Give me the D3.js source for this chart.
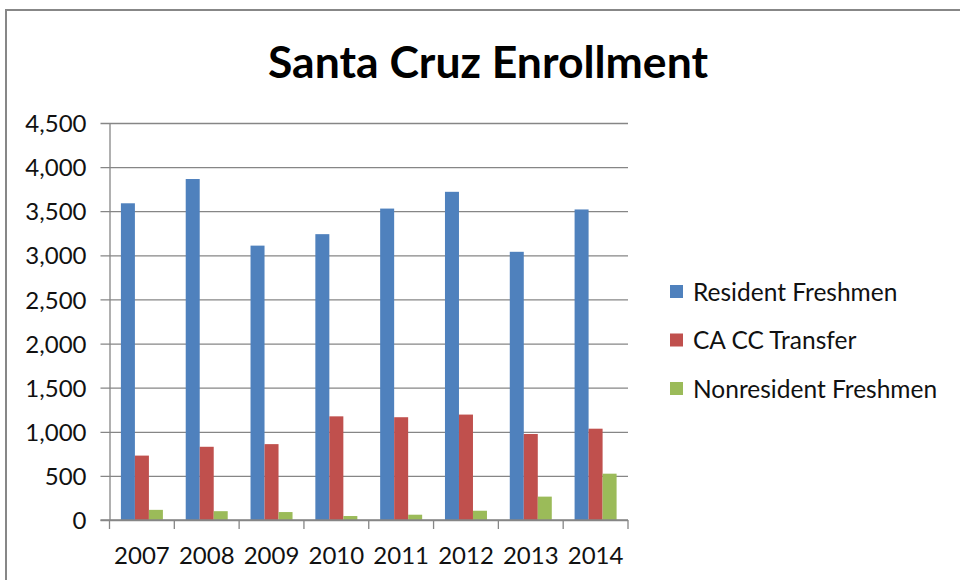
<!DOCTYPE html>
<html>
<head>
<meta charset="utf-8">
<script src="https://cdn.jsdelivr.net/npm/d3@7"></script>
<style>
  html, body { margin: 0; padding: 0; background: #fff; }
  svg { display: block; }
  text { font-family: Lato, "Open Sans", "Noto Sans", sans-serif; }
</style>
</head>
<body>
<svg id="chart" width="960" height="580"></svg>
<script>
// Santa Cruz enrollment by admit category
const years = ["2007", "2008", "2009", "2010", "2011", "2012", "2013", "2014"];
const seriesNames = ["Resident Freshmen", "CA CC Transfer", "Nonresident Freshmen"];
const residentFreshmen = [3590, 3865, 3110, 3240, 3530, 3720, 3040, 3520];
const caCCTransfer = [730, 830, 860, 1175, 1165, 1195, 975, 1035];
const nonresidentFreshmen = [115, 100, 90, 45, 60, 105, 265, 525];
const yTicks = [0, 500, 1000, 1500, 2000, 2500, 3000, 3500, 4000, 4500];
const seriesColors = ["#4F81BD", "#C0504D", "#9BBB59"];

const seriesValues = [residentFreshmen, caCCTransfer, nonresidentFreshmen];
const rows = years.map((yr, i) => ({
  year: yr,
  values: seriesNames.map((name, s) => ({ name, value: seriesValues[s][i], color: seriesColors[s] }))
}));

const svg = d3.select("#chart");
const plot = { left: 109.5, right: 628, top: 123, bottom: 520 };

// chart area frame (top and left edges)
svg.append("path")
  .attr("d", "M6,580 V10 H960")
  .attr("fill", "none")
  .attr("stroke", "#878787")
  .attr("stroke-width", 2);

const x = d3.scaleBand().domain(years).range([plot.left, plot.right]);
const xs = d3.scaleBand().domain(seriesNames)
  .range([x.bandwidth() * 0.176, x.bandwidth() * 0.824]);
const y = d3.scaleLinear().domain([0, 4500]).range([plot.bottom, plot.top]);

// horizontal gridlines with outward ticks + labels
const yAxis = d3.axisLeft(y)
  .tickValues(yTicks)
  .tickFormat(d3.format(","))
  .tickSizeInner(-(plot.right - plot.left))
  .tickSizeOuter(0)
  .tickPadding(23);

const gy = svg.append("g")
  .attr("transform", `translate(${plot.left},0)`)
  .call(yAxis);
gy.select(".domain").attr("stroke", "#868686").attr("stroke-width", 1.3);
gy.selectAll(".tick line")
  .attr("x1", -9)
  .attr("stroke", "#868686")
  .attr("stroke-width", 1.3);
gy.selectAll(".tick text")
  .attr("fill", "#111")
  .style("font-size", "24px")
  .attr("dy", "0.36em");

// bars
const groups = svg.append("g").selectAll("g")
  .data(rows)
  .join("g")
  .attr("transform", d => `translate(${x(d.year)},0)`);

groups.selectAll("rect")
  .data(d => d.values)
  .join("rect")
  .attr("x", d => xs(d.name))
  .attr("width", xs.bandwidth())
  .attr("y", d => y(d.value))
  .attr("height", d => y(0) - y(d.value))
  .attr("fill", d => d.color);

// category axis: baseline, boundary ticks, year labels
const gx = svg.append("g");
gx.append("line")
  .attr("x1", plot.left - 9).attr("x2", plot.right)
  .attr("y1", y(0)).attr("y2", y(0))
  .attr("stroke", "#868686").attr("stroke-width", 1.3);
const bounds = years.map(d => x(d)).concat([x.range()[1]]);
gx.selectAll("line.bound")
  .data(bounds)
  .join("line")
  .attr("class", "bound")
  .attr("x1", d => d).attr("x2", d => d)
  .attr("y1", y(0)).attr("y2", y(0) + 9)
  .attr("stroke", "#868686").attr("stroke-width", 1.3);
gx.selectAll("text")
  .data(years)
  .join("text")
  .attr("x", d => x(d) + x.bandwidth() / 2)
  .attr("y", 564)
  .attr("text-anchor", "middle")
  .attr("fill", "#111")
  .style("font-size", "24px")
  .text(d => d);

// title
svg.append("text")
  .attr("x", 488)
  .attr("y", 78)
  .attr("text-anchor", "middle")
  .attr("fill", "#000")
  .style("font-size", "44.5px")
  .style("font-weight", "bold")
  .text("Santa Cruz Enrollment");

// legend
const legend = svg.append("g")
  .selectAll("g")
  .data(seriesNames)
  .join("g")
  .attr("transform", (d, i) => `translate(670,${285 + i * 48.5})`);
legend.append("rect")
  .attr("width", 13).attr("height", 13)
  .attr("fill", (d, i) => seriesColors[i]);
legend.append("text")
  .attr("x", 23)
  .attr("y", 15.5)
  .attr("fill", "#111")
  .style("font-size", "24.5px")
  .text(d => d);
</script>
</body>
</html>
